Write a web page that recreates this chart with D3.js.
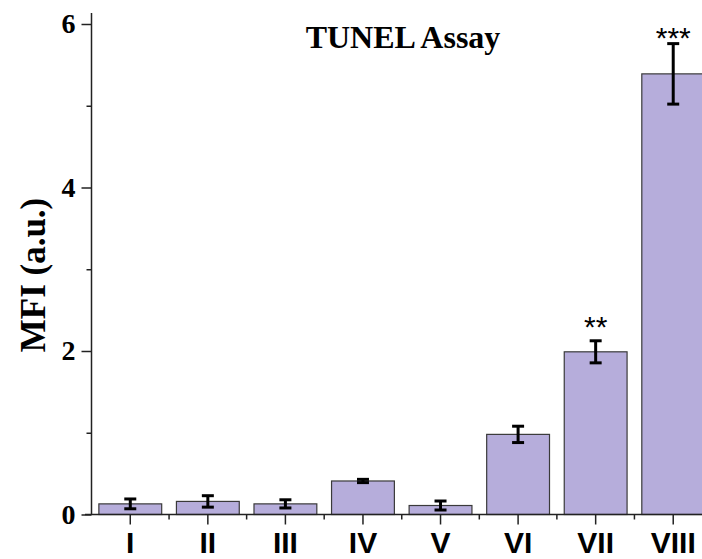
<!DOCTYPE html>
<html>
<head>
<meta charset="utf-8">
<script src="https://cdn.jsdelivr.net/npm/d3@7/dist/d3.min.js"></script>
<style>
  body { margin: 0; background: #fff; }
</style>
</head>
<body>
<svg></svg>
<script>
// values
var groups = ["I", "II", "III", "IV", "V", "VI", "VII", "VIII"];
var mfi = [0.13, 0.16, 0.13, 0.41, 0.11, 0.98, 1.99, 5.39];
var sd = [0.06, 0.07, 0.05, 0.02, 0.055, 0.10, 0.135, 0.37];
var stars = ["", "", "", "", "", "", "**", "***"];
var majorTicks = [0, 2, 4, 6];
var minorTicks = [1, 3, 5];

var svgWidth = 702;
var svgHeight = 559;

var svg = d3.select("svg")
  .attr("width", svgWidth)
  .attr("height", svgHeight);

var x = d3.scaleBand()
  .domain(groups)
  .range([91.5, 712])
  .paddingInner(0.19)
  .paddingOuter(0.095);

var y = d3.scaleLinear()
  .domain([0, 6])
  .range([514.5, 24]);

var step = x.step();
var bw = x.bandwidth();

// bars
svg.selectAll("rect.bar")
  .data(mfi)
  .enter()
  .append("rect")
  .attr("class", "bar")
  .attr("x", function(d, i) { return x(groups[i]); })
  .attr("y", function(d) { return y(d); })
  .attr("width", bw)
  .attr("height", function(d) { return y(0) - y(d); })
  .attr("fill", "#b6addb")
  .attr("stroke", "#3a3a3a")
  .attr("stroke-width", 1.2);

// error bars
var err = svg.append("g").attr("stroke", "#000").attr("stroke-width", 3);
mfi.forEach(function(d, i) {
  var cx = x(groups[i]) + bw / 2;
  err.append("line")
    .attr("x1", cx).attr("x2", cx)
    .attr("y1", y(d + sd[i])).attr("y2", y(d - sd[i]));
  err.append("line")
    .attr("x1", cx - 6).attr("x2", cx + 6)
    .attr("y1", y(d + sd[i])).attr("y2", y(d + sd[i]));
  err.append("line")
    .attr("x1", cx - 6).attr("x2", cx + 6)
    .attr("y1", y(d - sd[i])).attr("y2", y(d - sd[i]));
});

// significance marks (asterisk glyph centre sits ~0.57em above baseline)
svg.selectAll("text.star")
  .data(stars)
  .enter()
  .append("text")
  .attr("class", "star")
  .attr("x", function(d, i) { return x(groups[i]) + bw / 2; })
  .attr("y", function(d, i) {
    var centre = Math.max(y(mfi[i] + sd[i]) - 21, 31);
    return centre + 17;
  })
  .attr("text-anchor", "middle")
  .attr("font-family", "Liberation Sans, Arial")
  .attr("font-size", "30px")
  .text(function(d) { return d; });

// x axis
var xAxis = svg.append("g")
  .attr("transform", "translate(0," + y(0) + ")")
  .call(d3.axisBottom(x).tickSize(10).tickPadding(7).tickSizeOuter(0));
xAxis.select(".domain").remove();
xAxis.selectAll("text")
  .attr("font-family", "Liberation Sans, Arial")
  .attr("font-weight", "bold")
  .attr("font-size", "30px")
  .attr("fill", "#000");
xAxis.selectAll("line").attr("stroke", "#222").attr("stroke-width", 1.5);

svg.append("line")
  .attr("x1", 85).attr("x2", svgWidth)
  .attr("y1", y(0)).attr("y2", y(0))
  .attr("stroke", "#222").attr("stroke-width", 1.5);

// minor x ticks at band boundaries
svg.selectAll("line.xminor")
  .data(groups)
  .enter()
  .append("line")
  .attr("class", "xminor")
  .attr("x1", function(d) { return x(d) + bw / 2 + step / 2; })
  .attr("x2", function(d) { return x(d) + bw / 2 + step / 2; })
  .attr("y1", y(0))
  .attr("y2", y(0) + 5)
  .attr("stroke", "#222").attr("stroke-width", 1.5);

// y axis
var yAxis = svg.append("g")
  .attr("transform", "translate(91.5,0)")
  .call(d3.axisLeft(y).tickValues(majorTicks).tickFormat(d3.format("d"))
    .tickSize(10).tickPadding(6).tickSizeOuter(0));
yAxis.select(".domain").remove();
yAxis.selectAll("text")
  .attr("font-family", "Liberation Serif, Times New Roman")
  .attr("font-weight", "bold")
  .attr("font-size", "28px")
  .attr("fill", "#000");
yAxis.selectAll("line").attr("stroke", "#222").attr("stroke-width", 1.5);

var yMinor = svg.append("g")
  .attr("transform", "translate(91.5,0)")
  .call(d3.axisLeft(y).tickValues(minorTicks).tickSize(5).tickFormat(""));
yMinor.select(".domain").remove();
yMinor.selectAll("line").attr("stroke", "#222").attr("stroke-width", 1.5);

svg.append("line")
  .attr("x1", 91.5).attr("x2", 91.5)
  .attr("y1", 13).attr("y2", y(0))
  .attr("stroke", "#222").attr("stroke-width", 1.5);

// y label
svg.append("text")
  .attr("transform", "translate(45,275) rotate(-90)")
  .attr("text-anchor", "middle")
  .attr("font-family", "Liberation Serif, Times New Roman")
  .attr("font-weight", "bold")
  .attr("font-size", "35px")
  .text("MFI (a.u.)");

// title
svg.append("text")
  .attr("x", 403)
  .attr("y", 48)
  .attr("text-anchor", "middle")
  .attr("font-family", "Liberation Serif, Times New Roman")
  .attr("font-weight", "bold")
  .attr("font-size", "32px")
  .text("TUNEL Assay");
</script>
</body>
</html>
